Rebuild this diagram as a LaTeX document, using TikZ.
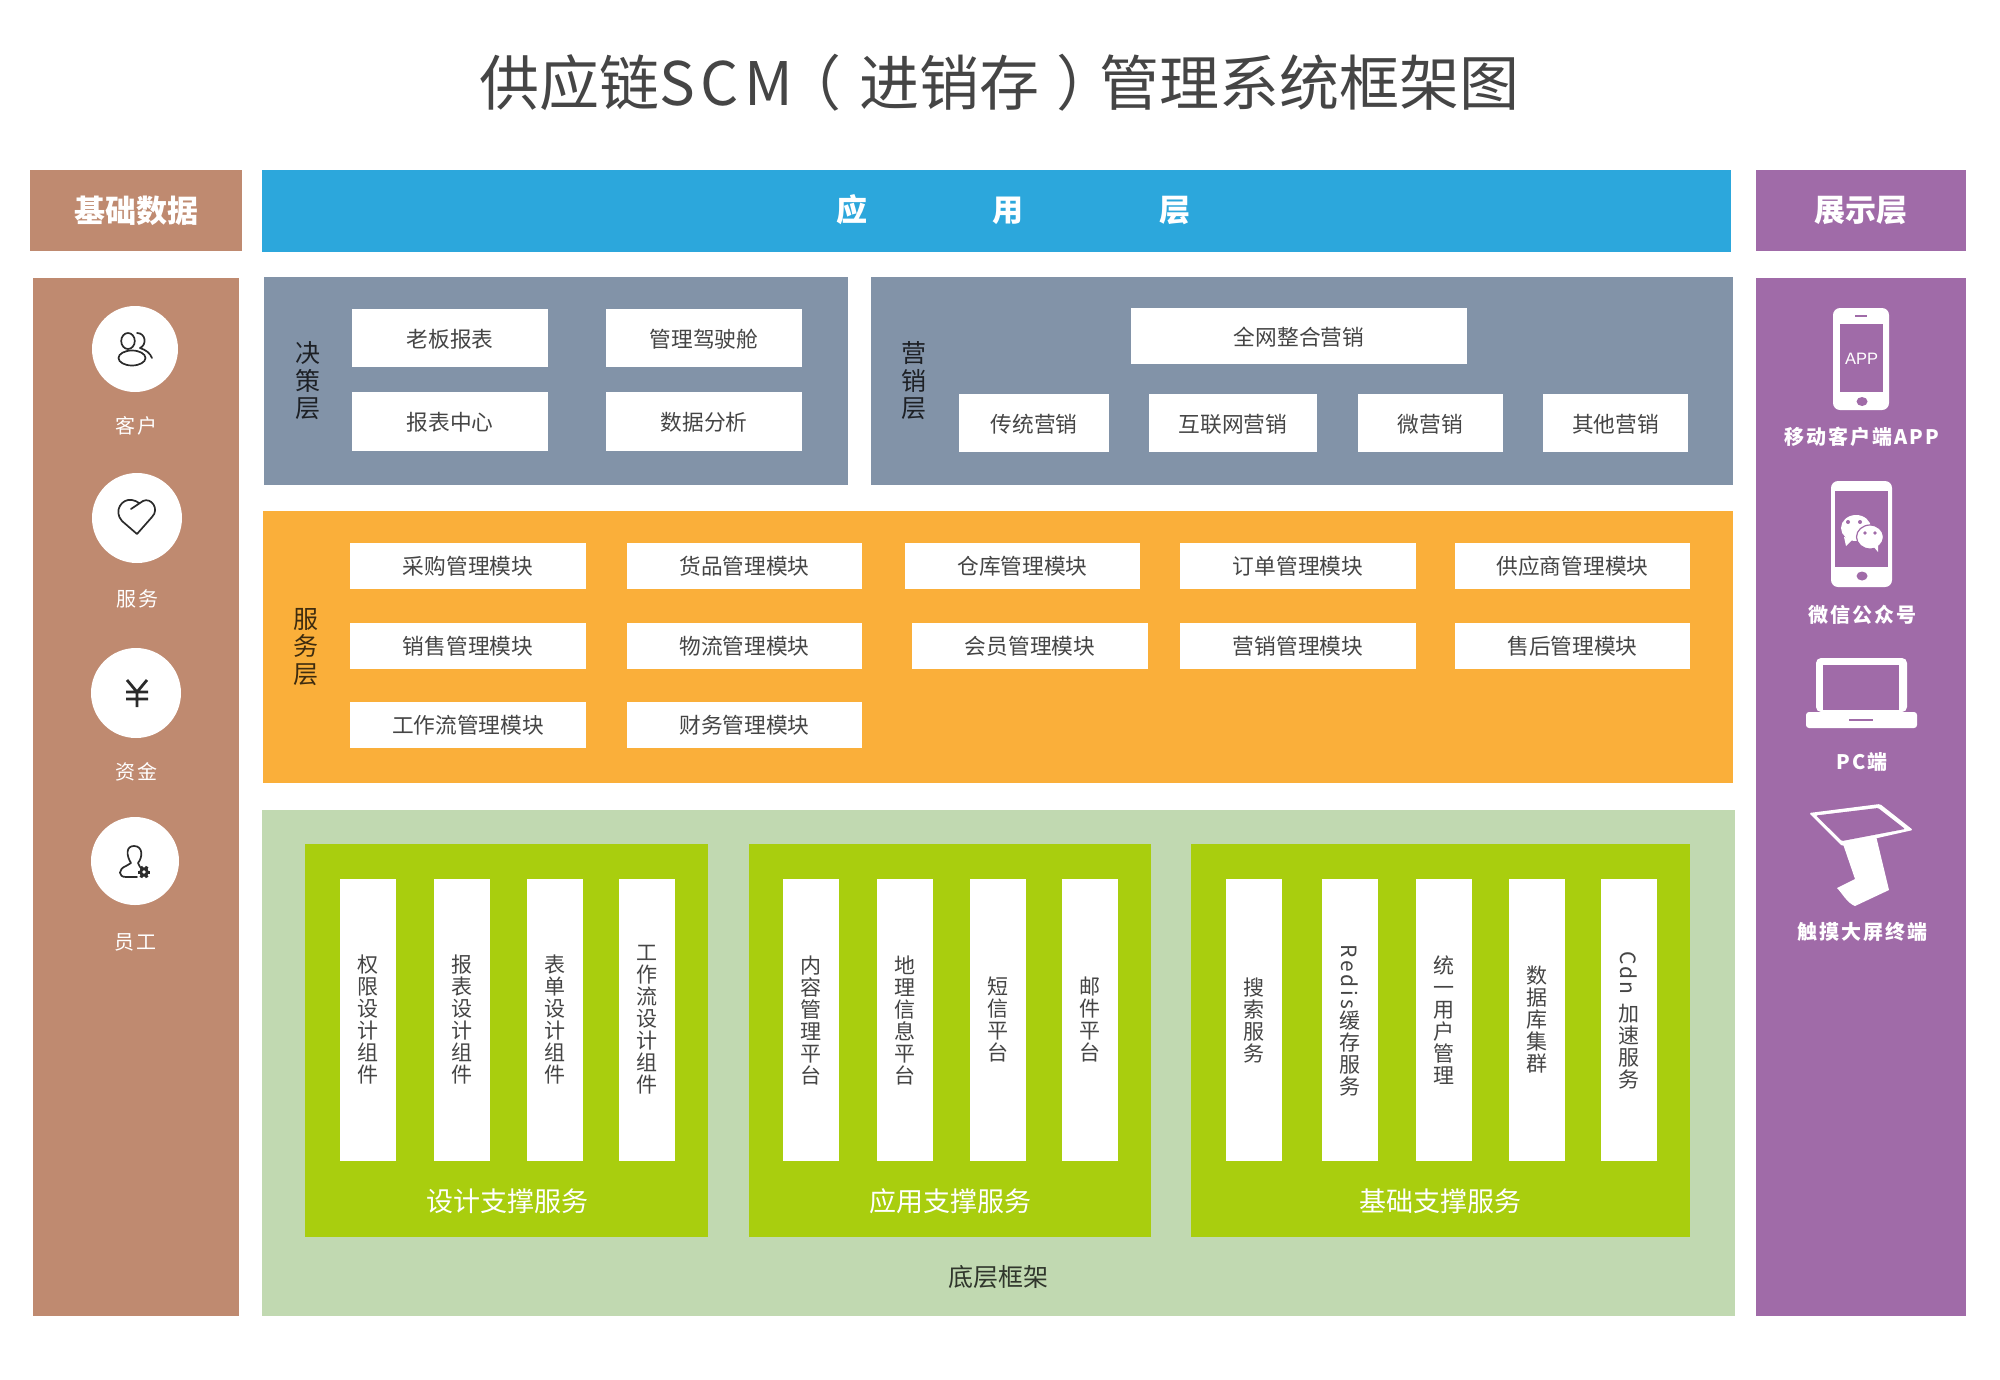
\documentclass[tikz,border=0pt]{standalone}
\usepackage{fontspec}
\usepackage{graphicx}
\setmainfont{Noto Sans CJK SC}
\newfontfamily\appfont{Liberation Sans}
\definecolor{brownc}{HTML}{BF8A70}
\definecolor{bluec}{HTML}{2CA7DC}
\definecolor{purplec}{HTML}{A06BA8}
\definecolor{slatec}{HTML}{8293A8}
\definecolor{orangec}{HTML}{FAAF3A}
\definecolor{palegreen}{HTML}{C1D9B1}
\definecolor{limec}{HTML}{A9CE0E}
\definecolor{inkc}{HTML}{454545}
\definecolor{iconink}{HTML}{2B2B2B}
\tikzset{
  panel/.style={inner sep=0pt,outer sep=0pt,draw=none},
  card/.style={panel,fill=white,text=inkc,text height=21pt,text depth=3pt,font=\fontsize{21.7}{24}\selectfont},
  scard/.style={card,text height=20pt,text depth=4pt},
  vcard/.style={panel,fill=white,text=inkc,align=center,font=\fontsize{21}{22}\selectfont},
  headtext/.style={text=white,font=\fontsize{31}{34}\selectfont\bfseries},
  layerlabel/.style={align=center,inner sep=0pt,font=\fontsize{25}{27.5}\selectfont},
  grouplabel/.style={text=white,inner sep=0pt,font=\fontsize{27}{30}\selectfont},
  leftlabel/.style={text=white,inner sep=0pt,font=\fontsize{20}{22}\selectfont\addfontfeature{LetterSpace=10}},
  rightlabel/.style={text=white,inner sep=0pt,font=\fontsize{20}{22}\selectfont\bfseries\addfontfeature{LetterSpace=10}},
  roundel/.style={circle,fill=white,inner sep=0pt,outer sep=0pt},
  iconline/.style={draw=iconink,line width=1.7pt,line cap=round,line join=round},
}
% style, name, x1, y1, x2, y2, text
\newcommand{\rbox}[7]{%
  \pgfmathsetmacro{\mybw}{#5-#3}%
  \pgfmathsetmacro{\mybh}{#6-#4}%
  \node[#1,minimum width=\mybw pt,minimum height=\mybh pt] (#2) at ({(#3+#5)/2},{(#4+#6)/2}) {#7};%
}
\begin{document}
\begin{tikzpicture}[x=1pt,y=-1pt]
\useasboundingbox (0,0) rectangle (2000,1379);

% title
\node[inner sep=0pt,text=inkc,font=\fontsize{60}{66}\selectfont] (title) at (999.5,83)
  {供应链{\addfontfeature{LetterSpace=9}SCM}\kern-12pt（\kern18pt进销存\kern17pt）\kern-17pt管理系统框架图};

% headers
\rbox{panel,fill=brownc,headtext}{hbase}{30}{170}{242}{251}{基础数据}
\rbox{panel,fill=bluec}{happ}{262}{170}{1731}{252}{}
\node[headtext,inner sep=0pt] (happtext) at (1013.5,210) {应\hspace{125pt}用\hspace{136pt}层};
\rbox{panel,fill=purplec,headtext}{hshow}{1756}{170}{1966}{251}{展示层}

% side panels
\rbox{panel,fill=brownc}{pbase}{33}{278}{239}{1316}{}
\rbox{panel,fill=purplec}{pshow}{1756}{278}{1966}{1316}{}

% decision layer
\rbox{panel,fill=slatec}{pdecide}{264}{277}{848}{485}{}
\node[layerlabel,text=black!78!slatec] (ldecide) at (308,381) {决\\策\\层};
\rbox{card}{d1}{352}{309}{548}{367}{老板报表}
\rbox{card}{d2}{606}{309}{802}{367}{管理驾驶舱}
\rbox{card}{d3}{352}{392}{548}{451}{报表中心}
\rbox{card}{d4}{606}{392}{802}{451}{数据分析}

% marketing layer
\rbox{panel,fill=slatec}{pmarket}{871}{277}{1733}{485}{}
\node[layerlabel,text=black!78!slatec] (lmarket) at (914,381) {营\\销\\层};
\rbox{card}{m0}{1131}{308}{1467}{364}{全网整合营销}
\rbox{card}{m1}{959}{394}{1109}{452}{传统营销}
\rbox{card}{m2}{1149}{394}{1317}{452}{互联网营销}
\rbox{card}{m3}{1358}{394}{1503}{452}{微营销}
\rbox{card}{m4}{1543}{394}{1688}{452}{其他营销}

% service layer
\rbox{panel,fill=orangec}{pservice}{263}{511}{1733}{783}{}
\node[layerlabel,text=black!75!orangec] (lservice) at (305.5,647) {服\\务\\层};
\rbox{scard}{s1}{350}{543}{586}{589}{采购管理模块}
\rbox{scard}{s2}{627}{543}{862}{589}{货品管理模块}
\rbox{scard}{s3}{905}{543}{1140}{589}{仓库管理模块}
\rbox{scard}{s4}{1180}{543}{1416}{589}{订单管理模块}
\rbox{scard}{s5}{1455}{543}{1690}{589}{供应商管理模块}
\rbox{scard}{s6}{350}{623}{586}{669}{销售管理模块}
\rbox{scard}{s7}{627}{623}{862}{669}{物流管理模块}
\rbox{scard}{s8}{912}{623}{1148}{669}{会员管理模块}
\rbox{scard}{s9}{1180}{623}{1416}{669}{营销管理模块}
\rbox{scard}{s10}{1455}{623}{1690}{669}{售后管理模块}
\rbox{scard}{s11}{350}{702}{586}{748}{工作流管理模块}
\rbox{scard}{s12}{627}{702}{862}{748}{财务管理模块}

% base framework
\rbox{panel,fill=palegreen}{pframe}{262}{810}{1735}{1316}{}
\node[inner sep=0pt,text=black!75!palegreen,font=\fontsize{25}{28}\selectfont] (lframe) at (998,1277) {底层框架};
\rbox{panel,fill=limec}{g1}{305}{844}{708}{1237}{}
\rbox{panel,fill=limec}{g2}{749}{844}{1151}{1237}{}
\rbox{panel,fill=limec}{g3}{1191}{844}{1690}{1237}{}
\node[grouplabel] (lg1) at (507,1201) {设计支撑服务};
\node[grouplabel] (lg2) at (950,1201) {应用支撑服务};
\node[grouplabel] (lg3) at (1440,1201) {基础支撑服务};

\rbox{vcard}{b1}{340}{879}{396}{1161}{权\\限\\设\\计\\组\\件}
\rbox{vcard}{b2}{434}{879}{490}{1161}{报\\表\\设\\计\\组\\件}
\rbox{vcard}{b3}{527}{879}{583}{1161}{表\\单\\设\\计\\组\\件}
\rbox{vcard}{b4}{619}{879}{675}{1161}{工\\作\\流\\设\\计\\组\\件}
\rbox{vcard}{b5}{783}{879}{839}{1161}{内\\容\\管\\理\\平\\台}
\rbox{vcard}{b6}{877}{879}{933}{1161}{地\\理\\信\\息\\平\\台}
\rbox{vcard}{b7}{970}{879}{1026}{1161}{短\\信\\平\\台}
\rbox{vcard}{b8}{1062}{879}{1118}{1161}{邮\\件\\平\\台}
\rbox{vcard}{b9}{1226}{879}{1282}{1161}{搜\\索\\服\\务}
\rbox{vcard}{b10}{1322}{879}{1378}{1161}{\rotatebox{-90}{\addfontfeature{LetterSpace=14}Redis}\\缓\\存\\服\\务}
\rbox{vcard}{b11}{1416}{879}{1472}{1161}{统\\一\\用\\户\\管\\理}
\rbox{vcard}{b12}{1509}{879}{1565}{1161}{数\\据\\库\\集\\群}
\rbox{vcard}{b13}{1601}{879}{1657}{1161}{\rotatebox{-90}{\addfontfeature{LetterSpace=10}Cdn}\\[8pt]加\\速\\服\\务}

% left column
\node[roundel,minimum size=86pt] (c1) at (135,349) {};
\node[roundel,minimum size=90pt] (c2) at (137,518) {};
\node[roundel,minimum size=90pt] (c3) at (136,693) {};
\node[roundel,minimum size=88pt] (c4) at (135,861) {};
\node[leftlabel] (t1) at (136,426) {客户};
\node[leftlabel] (t2) at (137,599) {服务};
\node[leftlabel] (t3) at (136,772) {资金};
\node[leftlabel] (t4) at (135,942) {员工};

% customers icon
\draw[iconline] (128,341) ellipse (6.8pt and 8pt);
\draw[iconline] (132,358) ellipse (13.5pt and 7.5pt);
\draw[iconline] (137,333) .. controls (146,333) and (147,345) .. (140,348) .. controls (146,350) and (150,353) .. (152,358);
% heart icon
\draw[iconline] (131,509) -- (143,501) .. controls (151,497) and (160,509) .. (152,517) -- (137,534) -- (122,521) .. controls (113,511) and (122,498) .. (132,500) .. controls (135,500) and (137,502) .. (139,503);
% yen icon
\draw[draw=iconink,line width=2.8pt] (127,680) -- (137,692) -- (147,680) (137,692) -- (137,707) (126,692) -- (148,692) (126,699) -- (148,699);
% staff icon
\draw[iconline] (137,877) -- (126,877) .. controls (118,877) and (118,869) .. (126,866) -- (131,863) .. controls (126,855) and (126,846) .. (134,846) .. controls (143,846) and (143,857) .. (138,863) -- (140,867);
\fill[iconink] (144,872) circle (4.8pt);
\foreach \a in {0,60,...,300} \draw[draw=iconink,line width=3pt] (144,872) -- ++(\a:6.3pt);
\fill[white] (144,872) circle (1.8pt);

% right column labels
\node[rightlabel] (r1) at (1862,437) {移动客户端APP};
\node[rightlabel] (r2) at (1862,615) {微信公众号};
\node[rightlabel] (r3) at (1862,762) {PC端};
\node[rightlabel] (r4) at (1862,932) {触摸大屏终端};

% phone with app
\fill[white,rounded corners=7pt] (1833,308) rectangle (1889,410);
\fill[purplec] (1840,324) rectangle (1883,392);
\draw[purplec,line width=1.2pt] (1855,316) -- (1867,316);
\fill[purplec] (1862,401.5) ellipse (5.5pt and 4.5pt);
\node[inner sep=0pt,text=white,font=\appfont\fontsize{16.5}{18}\selectfont] (apptext) at (1861.5,359) {APP};

% phone with chat bubbles
\fill[white,rounded corners=7pt] (1831,481) rectangle (1892,587);
\fill[purplec] (1835,491) rectangle (1888,567);
\fill[purplec] (1862,576) ellipse (5.5pt and 4.5pt);
\fill[white] (1856,528) ellipse (15pt and 13pt);
\fill[white] (1844,537) -- (1846,546) -- (1853,539) -- cycle;
\fill[white,draw=purplec,line width=1.2pt] (1870,537) ellipse (13.5pt and 12pt);
\fill[white] (1873,546) -- (1878,552) -- (1878,543) -- cycle;
\fill[purplec] (1848,522) circle (2pt) (1860,522) circle (2pt) (1865,533) circle (1.8pt) (1875,533) circle (1.8pt);

% laptop
\fill[white,rounded corners=5pt] (1816,712) -- (1816,658) -- (1907,658) -- (1907,712) -- cycle;
\fill[purplec] (1823,665) rectangle (1899,710);
\fill[white,rounded corners=3pt] (1806,712) -- (1917,712) -- (1917,728) -- (1806,728) -- cycle;
\draw[purplec,line width=2.4pt] (1849,720) -- (1873,720);

% touch kiosk
\fill[white] (1843,844) -- (1876,836) -- (1889,890) -- (1855,906) .. controls (1847,903) and (1842,893) .. (1837,888) -- (1855,879) -- cycle;
\fill[white,rounded corners=1.5pt] (1809,813) -- (1880,804) -- (1913,830) -- (1842,846) -- cycle;
\fill[purplec,rounded corners=1pt] (1816,815.5) -- (1878,808) -- (1905,829) -- (1842,841) -- cycle;
\end{tikzpicture}
\end{document}
